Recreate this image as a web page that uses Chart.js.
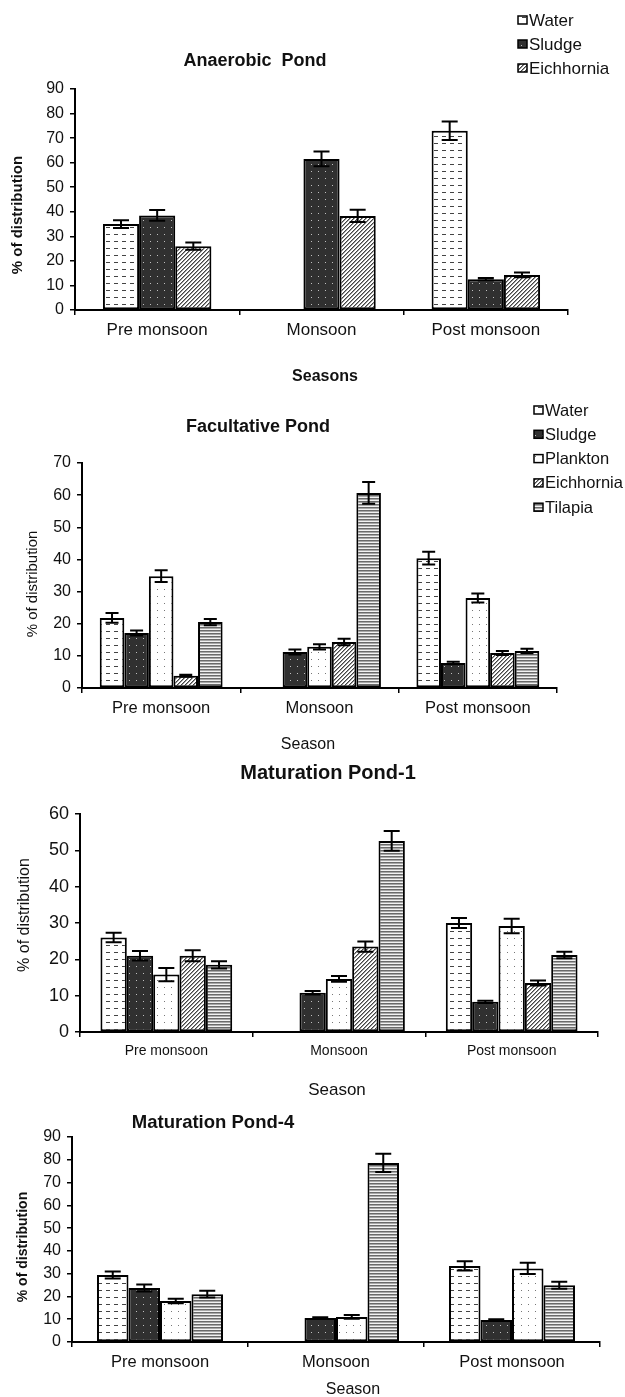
<!DOCTYPE html>
<html>
<head>
<meta charset="utf-8">
<title>Pond distribution</title>
<script src="https://cdn.jsdelivr.net/npm/chart.js@4.4.1/dist/chart.umd.min.js"></script>
<style>
  html, body { margin: 0; padding: 0; background: #fff; }
  body { width: 625px; height: 1397px; position: relative; overflow: hidden; }
  canvas { position: absolute; left: 0; }
</style>
</head>
<body>
<canvas id="anaerobicChart" width="625" height="390" style="top:0px"></canvas>
<canvas id="facultativeChart" width="625" height="370" style="top:390px"></canvas>
<canvas id="maturation1Chart" width="625" height="345" style="top:760px"></canvas>
<canvas id="maturation4Chart" width="625" height="292" style="top:1105px"></canvas>
<script>
// categories
const seasons = ['Pre monsoon', 'Monsoon', 'Post monsoon'];

// Anaerobic pond (mean, error)
const anaWater = [35, 0, 73];
const anaWaterErr = [1.6, 0, 3.8];
const anaSludge = [38.5, 61.5, 12.5];
const anaSludgeErr = [2.2, 3, 0.5];
const anaEich = [26, 38.3, 14.3];
const anaEichErr = [1.5, 2.5, 1];
const anaTicks = { max: 90, step: 10 };

// Facultative pond
const facWater = [21.8, 0, 40.4];
const facWaterErr = [1.5, 0, 2];
const facSludge = [17.1, 11.2, 7.8];
const facSludgeErr = [0.8, 0.8, 0.4];
const facPlankton = [34.8, 12.8, 28];
const facPlanktonErr = [1.8, 0.8, 1.4];
const facEich = [3.8, 14.3, 10.9];
const facEichErr = [0.3, 1, 0.6];
const facTilapia = [20.5, 60.7, 11.5];
const facTilapiaErr = [1, 3.4, 0.7];
const facTicks = { max: 70, step: 10 };

// Maturation pond-1
const m1Water = [26, 0, 30];
const m1WaterErr = [1.3, 0, 1.4];
const m1Sludge = [21, 10.8, 8.3];
const m1SludgeErr = [1.3, 0.5, 0.3];
const m1Plankton = [15.8, 14.6, 29.2];
const m1PlanktonErr = [1.8, 0.8, 2];
const m1Eich = [21, 23.5, 13.5];
const m1EichErr = [1.5, 1.4, 0.7];
const m1Tilapia = [18.5, 52.6, 21.2];
const m1TilapiaErr = [1, 2.7, 0.9];
const m1Ticks = { max: 60, step: 10 };

// Maturation pond-4 (no Eichhornia)
const m4Water = [29.4, 0, 33.4];
const m4WaterErr = [1.5, 0, 2];
const m4Sludge = [23.7, 10.5, 9.7];
const m4SludgeErr = [1.5, 0.4, 0.3];
const m4Plankton = [18, 11, 32.3];
const m4PlanktonErr = [1, 0.8, 2.5];
const m4Tilapia = [21, 78.6, 24.9];
const m4TilapiaErr = [1.5, 4, 1.5];
const m4Ticks = { max: 90, step: 10 };

const FONT = "'Liberation Sans', Arial, sans-serif";

// --- fill patterns (black & white print style) ---
function makePattern(w, h, draw) {
    const c = document.createElement('canvas');
    c.width = w;
    c.height = h;
    const g = c.getContext('2d');
    draw(g);
    return g.createPattern(c, 'repeat');
}

const fills = {
    water: makePattern(8, 7, g => {
        g.fillStyle = '#fff'; g.fillRect(0, 0, 8, 7);
        g.fillStyle = '#444'; g.fillRect(2, 3, 4, 1);
    }),
    sludge: makePattern(7, 7, g => {
        g.fillStyle = '#303030'; g.fillRect(0, 0, 7, 7);
        g.fillStyle = '#c0c0c0'; g.fillRect(3, 3, 1, 1);
    }),
    plankton: makePattern(7, 7, g => {
        g.fillStyle = '#fff'; g.fillRect(0, 0, 7, 7);
        g.fillStyle = '#777'; g.fillRect(3, 3, 1, 1);
    }),
    eich: makePattern(4, 4, g => {
        g.fillStyle = '#fff'; g.fillRect(0, 0, 4, 4);
        g.fillStyle = '#444';
        for (let i = 0; i < 4; i++) g.fillRect(i, 3 - i, 1, 1);
        g.fillStyle = '#999';
        for (let i = 0; i < 4; i++) g.fillRect(i, (4 - i) % 4, 1, 1);
    }),
    tilapia: makePattern(2, 3, g => {
        g.fillStyle = '#6a6a6a'; g.fillRect(0, 0, 2, 1);
        g.fillStyle = '#a8a8a8'; g.fillRect(0, 1, 2, 1);
        g.fillStyle = '#f2f2f2'; g.fillRect(0, 2, 2, 1);
    })
};

// error bars drawn on top of the bars, positioned via the y scale
const errorBars = {
    id: 'errorBars',
    afterDatasetsDraw(chart, args, opts) {
        const ctx = chart.ctx;
        const yScale = chart.scales.y;
        const half = opts.cap / 2;
        ctx.save();
        ctx.strokeStyle = '#000';
        ctx.lineWidth = 2;
        chart.data.datasets.forEach((ds, i) => {
            chart.getDatasetMeta(i).data.forEach((bar, j) => {
                const e = ds.errors[j];
                if (!e) return;
                const top = yScale.getPixelForValue(ds.data[j] + e);
                const bot = yScale.getPixelForValue(ds.data[j] - e);
                ctx.beginPath();
                ctx.moveTo(bar.x, top); ctx.lineTo(bar.x, bot);
                ctx.moveTo(bar.x - half, top); ctx.lineTo(bar.x + half, top);
                ctx.moveTo(bar.x - half, bot); ctx.lineTo(bar.x + half, bot);
                ctx.stroke();
            });
        });
        ctx.restore();
    }
};

// titles, axis titles and legend at fixed spots, as in the figure
const panelText = {
    id: 'panelText',
    afterDraw(chart, args, o) {
        const ctx = chart.ctx;
        ctx.save();
        ctx.fillStyle = '#111';
        ctx.textBaseline = 'middle';
        ctx.textAlign = 'center';

        ctx.font = o.title.font;
        ctx.fillText(o.title.text, o.title.x, o.title.y);

        ctx.font = o.xTitle.font;
        ctx.fillText(o.xTitle.text, o.xTitle.x, o.xTitle.y);

        ctx.save();
        ctx.translate(o.yTitle.x, o.yTitle.y);
        ctx.rotate(-Math.PI / 2);
        ctx.font = o.yTitle.font;
        ctx.fillText(o.yTitle.text, 0, 0);
        ctx.restore();

        if (o.legend) {
            const lg = o.legend;
            ctx.textAlign = 'left';
            ctx.font = lg.font;
            chart.data.datasets.forEach((ds, i) => {
                const y = lg.y + i * lg.gap;
                ctx.fillStyle = ds.backgroundColor;
                ctx.fillRect(lg.x, y - 4, 9, 8);
                ctx.strokeStyle = '#000';
                ctx.lineWidth = 1.5;
                ctx.strokeRect(lg.x, y - 4, 9, 8);
                ctx.fillStyle = '#111';
                ctx.fillText(ds.label, lg.x + 11, y + 1);
            });
        }
        ctx.restore();
    }
};

function series(label, data, errors, fill) {
    return { label: label, data: data, errors: errors, backgroundColor: fill };
}

function drawPanel(id, datasets, cfg) {
    const canvas = document.getElementById(id);
    new Chart(canvas, {
        type: 'bar',
        data: { labels: seasons, datasets: datasets },
        options: {
            responsive: false,
            animation: false,
            events: [],
            layout: { padding: { top: cfg.area.top, right: canvas.width - cfg.area.right, left: 0, bottom: 0 } },
            datasets: {
                bar: {
                    categoryPercentage: cfg.groupWidth,
                    barPercentage: 1,
                    borderColor: '#000',
                    borderWidth: 2,
                    borderSkipped: false
                }
            },
            plugins: {
                legend: { display: false },
                title: { display: false },
                tooltip: { enabled: false },
                errorBars: { cap: cfg.cap },
                panelText: cfg.text
            },
            scales: {
                x: {
                    grid: { drawOnChartArea: false, drawTicks: true, tickLength: 5, color: '#000', lineWidth: 1.5, offset: true },
                    border: { display: true, color: '#000', width: 2 },
                    ticks: { color: '#111', font: { family: FONT, size: cfg.xFont }, padding: cfg.xPad, maxRotation: 0 },
                    afterFit: s => { s.height = canvas.height - cfg.area.bottom; }
                },
                y: {
                    min: 0,
                    max: cfg.ticks.max,
                    ticks: { stepSize: cfg.ticks.step, color: '#111', font: { family: FONT, size: cfg.yFont }, padding: 6 },
                    grid: { drawOnChartArea: false, drawTicks: true, tickLength: 5, color: '#000', lineWidth: 1.5 },
                    border: { display: true, color: '#000', width: 2 },
                    afterFit: s => { s.width = cfg.area.left; }
                }
            }
        },
        plugins: [errorBars, panelText]
    });
}

drawPanel('anaerobicChart', [
    series('Water', anaWater, anaWaterErr, fills.water),
    series('Sludge', anaSludge, anaSludgeErr, fills.sludge),
    series('Eichhornia', anaEich, anaEichErr, fills.eich)
], {
    area: { left: 75, right: 568, top: 89, bottom: 310 },
    groupWidth: 0.66, cap: 16, ticks: anaTicks, xFont: 17, yFont: 16, xPad: 5,
    text: {
        title: { text: 'Anaerobic  Pond', x: 255, y: 61, font: 'bold 18px ' + FONT },
        xTitle: { text: 'Seasons', x: 325, y: 377, font: 'bold 16px ' + FONT },
        yTitle: { text: '% of distribution', x: 18, y: 215, font: 'bold 15px ' + FONT },
        legend: { x: 518, y: 20, gap: 24, font: '17px ' + FONT }
    }
});

drawPanel('facultativeChart', [
    series('Water', facWater, facWaterErr, fills.water),
    series('Sludge', facSludge, facSludgeErr, fills.sludge),
    series('Plankton', facPlankton, facPlanktonErr, fills.plankton),
    series('Eichhornia', facEich, facEichErr, fills.eich),
    series('Tilapia', facTilapia, facTilapiaErr, fills.tilapia)
], {
    area: { left: 82, right: 557, top: 73, bottom: 298 },
    groupWidth: 0.776, cap: 13, ticks: facTicks, xFont: 16.5, yFont: 16, xPad: 6,
    text: {
        title: { text: 'Facultative Pond', x: 258, y: 37, font: 'bold 18px ' + FONT },
        xTitle: { text: 'Season', x: 308, y: 355, font: '16px ' + FONT },
        yTitle: { text: '% of distribution', x: 33, y: 194, font: '15px ' + FONT },
        legend: { x: 534, y: 20, gap: 24.3, font: '16.5px ' + FONT }
    }
});

drawPanel('maturation1Chart', [
    series('Water', m1Water, m1WaterErr, fills.water),
    series('Sludge', m1Sludge, m1SludgeErr, fills.sludge),
    series('Plankton', m1Plankton, m1PlanktonErr, fills.plankton),
    series('Eichhornia', m1Eich, m1EichErr, fills.eich),
    series('Tilapia', m1Tilapia, m1TilapiaErr, fills.tilapia)
], {
    area: { left: 80, right: 598, top: 54, bottom: 272 },
    groupWidth: 0.763, cap: 16, ticks: m1Ticks, xFont: 14, yFont: 18, xPad: 6,
    text: {
        title: { text: 'Maturation Pond-1', x: 328, y: 13, font: 'bold 20px ' + FONT },
        xTitle: { text: 'Season', x: 337, y: 330, font: '17px ' + FONT },
        yTitle: { text: '% of distribution', x: 25, y: 155, font: '16px ' + FONT }
    }
});

drawPanel('maturation4Chart', [
    series('Water', m4Water, m4WaterErr, fills.water),
    series('Sludge', m4Sludge, m4SludgeErr, fills.sludge),
    series('Plankton', m4Plankton, m4PlanktonErr, fills.plankton),
    series('Tilapia', m4Tilapia, m4TilapiaErr, fills.tilapia)
], {
    area: { left: 72, right: 600, top: 32, bottom: 237 },
    groupWidth: 0.716, cap: 16, ticks: m4Ticks, xFont: 16.5, yFont: 16, xPad: 6,
    text: {
        title: { text: 'Maturation Pond-4', x: 213, y: 18, font: 'bold 18.5px ' + FONT },
        xTitle: { text: 'Season', x: 353, y: 285, font: '16px ' + FONT },
        yTitle: { text: '% of distribution', x: 23, y: 142, font: 'bold 14px ' + FONT }
    }
});
</script>
</body>
</html>
